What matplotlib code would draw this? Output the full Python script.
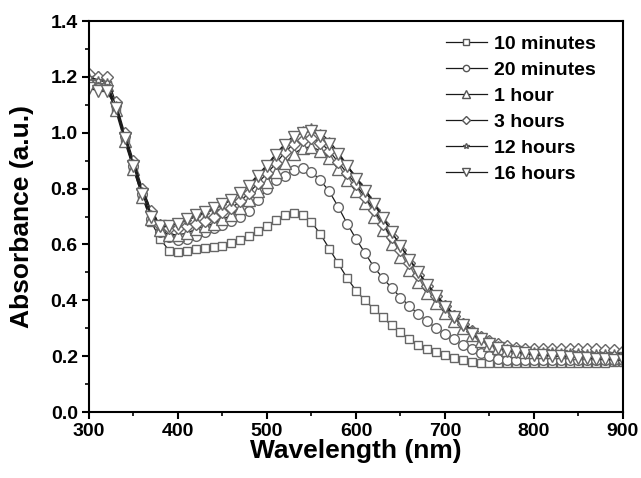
import numpy as np
import matplotlib.pyplot as plt
from matplotlib.ticker import MultipleLocator

plt.rcParams['font.family'] = ['Liberation Sans', 'DejaVu Sans']
plt.rcParams['font.weight'] = 'bold'

# wavelength grid, 10 nm steps
wavelength = list(range(300, 901, 10))

# absorbance (a.u.)
abs_10min = [1.17, 1.18, 1.17, 1.09, 0.98, 0.87, 0.77, 0.68, 0.62, 0.578,
             0.572, 0.577, 0.585, 0.588, 0.59, 0.595, 0.605, 0.617, 0.63, 0.648,
             0.665, 0.688, 0.705, 0.713, 0.705, 0.68, 0.637, 0.585, 0.532, 0.48,
             0.435, 0.40, 0.37, 0.34, 0.31, 0.285, 0.26, 0.24, 0.225, 0.215,
             0.205, 0.195, 0.185, 0.178, 0.175, 0.175, 0.175, 0.175, 0.175, 0.175,
             0.175, 0.175, 0.175, 0.175, 0.175, 0.175, 0.176, 0.176, 0.177, 0.178, 0.18]
abs_20min = [1.18, 1.19, 1.17, 1.10, 0.99, 0.88, 0.78, 0.69, 0.645, 0.625,
             0.615, 0.62, 0.63, 0.645, 0.66, 0.67, 0.685, 0.70, 0.72, 0.76,
             0.80, 0.83, 0.845, 0.865, 0.875, 0.86, 0.83, 0.79, 0.735, 0.675,
             0.62, 0.57, 0.52, 0.48, 0.445, 0.41, 0.38, 0.35, 0.325, 0.30,
             0.28, 0.26, 0.24, 0.225, 0.21, 0.20, 0.19, 0.187, 0.185, 0.185,
             0.185, 0.185, 0.185, 0.185, 0.185, 0.185, 0.185, 0.185, 0.185, 0.185, 0.185]
abs_1h = [1.19, 1.20, 1.17, 1.08, 0.97, 0.87, 0.77, 0.69, 0.65, 0.635,
          0.635, 0.64, 0.655, 0.665, 0.675, 0.69, 0.705, 0.73, 0.76, 0.79,
          0.825, 0.86, 0.89, 0.925, 0.945, 0.95, 0.935, 0.91, 0.87, 0.83,
          0.79, 0.75, 0.70, 0.65, 0.60, 0.555, 0.51, 0.465, 0.425, 0.39,
          0.355, 0.325, 0.30, 0.275, 0.255, 0.24, 0.23, 0.222, 0.218, 0.215,
          0.215, 0.215, 0.215, 0.214, 0.214, 0.213, 0.213, 0.212, 0.212, 0.211, 0.21]
abs_3h = [1.21, 1.20, 1.20, 1.11, 1.00, 0.90, 0.80, 0.72, 0.67, 0.66,
          0.66, 0.665, 0.675, 0.685, 0.70, 0.715, 0.73, 0.755, 0.785, 0.82,
          0.855, 0.89, 0.93, 0.96, 0.975, 0.98, 0.965, 0.935, 0.895, 0.855,
          0.815, 0.77, 0.725, 0.675, 0.625, 0.58, 0.535, 0.49, 0.45, 0.415,
          0.38, 0.345, 0.315, 0.29, 0.27, 0.255, 0.245, 0.235, 0.23, 0.225,
          0.225, 0.225, 0.225, 0.225, 0.225, 0.225, 0.225, 0.224, 0.223, 0.222, 0.22]
abs_12h = [1.20, 1.19, 1.18, 1.10, 0.99, 0.89, 0.79, 0.71, 0.67, 0.67,
           0.675, 0.685, 0.70, 0.71, 0.725, 0.74, 0.76, 0.785, 0.815, 0.85,
           0.885, 0.925, 0.96, 0.99, 1.01, 1.02, 1.00, 0.97, 0.93, 0.885,
           0.84, 0.80, 0.75, 0.70, 0.645, 0.595, 0.55, 0.50, 0.46, 0.42,
           0.385, 0.35, 0.32, 0.295, 0.27, 0.255, 0.24, 0.23, 0.225, 0.22,
           0.22, 0.218, 0.217, 0.216, 0.215, 0.214, 0.213, 0.212, 0.211, 0.21, 0.21]
abs_16h = [1.16, 1.15, 1.15, 1.09, 0.98, 0.88, 0.78, 0.70, 0.665, 0.665,
           0.675, 0.69, 0.705, 0.715, 0.73, 0.745, 0.76, 0.785, 0.81, 0.845,
           0.88, 0.92, 0.955, 0.985, 1.00, 1.005, 0.99, 0.96, 0.925, 0.88,
           0.835, 0.79, 0.745, 0.695, 0.645, 0.595, 0.545, 0.50, 0.455, 0.415,
           0.375, 0.34, 0.31, 0.28, 0.26, 0.245, 0.23, 0.22, 0.215, 0.21,
           0.205, 0.203, 0.201, 0.199, 0.197, 0.195, 0.193, 0.191, 0.189, 0.187, 0.185]

labels = ['10 minutes', '20 minutes', '1 hour', '3 hours', '12 hours', '16 hours']
markers = ['s', 'o', '^', 'D', '*', 'v']
msizes = [6, 7, 8, 6, 6, 8]
series = [abs_10min, abs_20min, abs_1h, abs_3h, abs_12h, abs_16h]

fig = plt.figure(figsize=(6.41, 4.78), dpi=100)
ax = fig.add_axes([0.1388, 0.138, 0.8331, 0.818])

for y, lab, m, ms in zip(series, labels, markers, msizes):
    ax.plot(wavelength, y, color='#1a1a1a', lw=0.9, marker=m, ms=ms,
            mfc='white', mec='#666666', mew=1.0, label=lab)

ax.set_xlim(300, 900)
ax.set_ylim(0.0, 1.4)
ax.xaxis.set_major_locator(MultipleLocator(100))
ax.xaxis.set_minor_locator(MultipleLocator(50))
ax.yaxis.set_major_locator(MultipleLocator(0.2))
ax.yaxis.set_minor_locator(MultipleLocator(0.1))
ax.yaxis.set_major_formatter(plt.FormatStrFormatter('%.1f'))
ax.tick_params(which='major', direction='out', length=5, width=1.5, labelsize=14, pad=3)
ax.tick_params(which='minor', direction='out', length=3, width=1.2)
for s in ax.spines.values():
    s.set_linewidth(1.5)

ax.set_xlabel('Wavelength (nm)', fontsize=19, fontweight='bold', labelpad=-1)
ax.set_ylabel('Absorbance (a.u.)', fontsize=19, fontweight='bold', labelpad=12)

leg = ax.legend(loc='upper right', frameon=False, fontsize=14,
                handlelength=2.1, handletextpad=0.35, labelspacing=0.43,
                markerscale=0.65, borderaxespad=0.0,
                bbox_to_anchor=(0.963, 0.983))
for h in leg.legend_handles:
    h.set_markeredgecolor('#555555')

fig.savefig('out.png', dpi=100)
